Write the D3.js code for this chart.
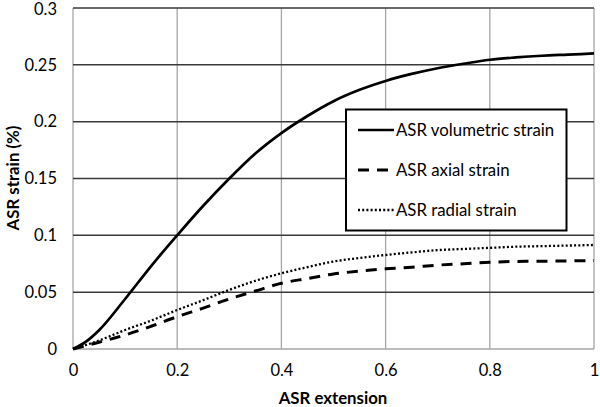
<!DOCTYPE html>
<html>
<head>
<meta charset="utf-8">
<script src="https://cdn.jsdelivr.net/npm/d3@7"></script>
<style>
  html, body { margin: 0; padding: 0; background: #fff; }
  svg { display: block; }
  text { font-family: Lato, "Open Sans", sans-serif; fill: #000; }
</style>
</head>
<body>
<svg id="chart" width="600" height="407"></svg>
<script>
const xValues = [0, 0.025, 0.05, 0.1, 0.15, 0.2, 0.25, 0.3, 0.35, 0.4, 0.45, 0.5, 0.55, 0.6, 0.65, 0.7, 0.75, 0.8, 0.85, 0.9, 0.95, 1];
const volumetric = [0, 0.0065, 0.0165, 0.044, 0.073, 0.1, 0.126, 0.15, 0.172, 0.19, 0.205, 0.218, 0.228, 0.2358, 0.242, 0.247, 0.251, 0.2545, 0.2565, 0.258, 0.259, 0.260];
const axial = [0, 0.003, 0.006, 0.0123, 0.02, 0.0284, 0.036, 0.044, 0.051, 0.0578, 0.062, 0.066, 0.0685, 0.0705, 0.072, 0.0738, 0.075, 0.0763, 0.077, 0.0772, 0.0775, 0.0778];
const radial = [0, 0.0035, 0.0075, 0.0167, 0.025, 0.0343, 0.043, 0.052, 0.06, 0.0666, 0.072, 0.077, 0.080, 0.0827, 0.085, 0.087, 0.088, 0.089, 0.09, 0.0905, 0.091, 0.0915];
const seriesNames = ["ASR volumetric strain", "ASR axial strain", "ASR radial strain"];
const xTicks = [0, 0.2, 0.4, 0.6, 0.8, 1];
const xTickLabels = ["0", "0.2", "0.4", "0.6", "0.8", "1"];
const yTicks = [0, 0.05, 0.1, 0.15, 0.2, 0.25, 0.3];
const yTickLabels = ["0", "0.05", "0.1", "0.15", "0.2", "0.25", "0.3"];
const xTitle = "ASR extension";
const yTitle = "ASR strain (%)";

const svg = d3.select("#chart");
const x = d3.scaleLinear().domain([0, 1]).range([73, 594]);
const y = d3.scaleLinear().domain([0, 0.3]).range([349, 8]);

// vertical gridlines (gray)
svg.append("g").selectAll("line").data(xTicks).join("line")
  .attr("x1", d => x(d)).attr("x2", d => x(d))
  .attr("y1", y(0)).attr("y2", y(0.3))
  .attr("stroke", "#a6a6a6").attr("stroke-width", 1.3);

// horizontal gridlines (dark)
svg.append("g").selectAll("line").data(yTicks.filter(d => d > 0)).join("line")
  .attr("x1", x(0)).attr("x2", x(1))
  .attr("y1", d => y(d)).attr("y2", d => y(d))
  .attr("stroke", "#3a3a3a").attr("stroke-width", 1.5);

// x axis line (gray)
svg.append("line").attr("x1", x(0)).attr("x2", x(1)).attr("y1", y(0)).attr("y2", y(0))
  .attr("stroke", "#a6a6a6").attr("stroke-width", 1.5);

// Tick labels via axes
const xAxis = d3.axisBottom(x).tickValues(xTicks).tickFormat((d, i) => xTickLabels[i]).tickSize(0).tickPadding(15);
const gx = svg.append("g").attr("transform", `translate(0,${y(0)})`).call(xAxis);
gx.select(".domain").remove();
gx.selectAll("text").attr("font-size", 16.5).attr("font-family", "Lato, sans-serif").attr("fill", "#000");

const yAxis = d3.axisLeft(y).tickValues(yTicks).tickFormat((d, i) => yTickLabels[i]).tickSize(0).tickPadding(16);
const gy = svg.append("g").attr("transform", `translate(${x(0)},0)`).call(yAxis);
gy.select(".domain").remove();
gy.selectAll("text").attr("font-size", 16.5).attr("font-family", "Lato, sans-serif").attr("fill", "#000")
  .attr("dy", d => d === 0.3 ? "0.42em" : "0.32em");

// Series lines
const line = d3.line().x((d, i) => x(xValues[i])).y(d => y(d)).curve(d3.curveMonotoneX);
const styles = [
  { data: volumetric, dash: null, width: 2.7 },
  { data: axial, dash: "11,8", width: 3 },
  { data: radial, dash: "2,2.2", width: 2.3 }
];
styles.forEach(s => {
  svg.append("path").datum(s.data).attr("d", line)
    .attr("fill", "none").attr("stroke", "#000")
    .attr("stroke-width", s.width)
    .attr("stroke-dasharray", s.dash);
});

// Legend
const lg = svg.append("g");
lg.append("rect").attr("x", 346).attr("y", 109.5).attr("width", 220.5).attr("height", 121)
  .attr("fill", "#fff").attr("stroke", "#000").attr("stroke-width", 2);
const legendY = [130, 170, 210];
styles.forEach((s, i) => {
  lg.append("line").attr("x1", 358).attr("x2", 394).attr("y1", legendY[i]).attr("y2", legendY[i])
    .attr("stroke", "#000").attr("stroke-width", s.width).attr("stroke-dasharray", s.dash);
  lg.append("text").attr("x", 396).attr("y", legendY[i]).attr("dy", "0.35em")
    .attr("font-size", 16.8).text(seriesNames[i]);
});

// Titles
svg.append("text").attr("x", 333).attr("y", 398).attr("dy", "0.35em").attr("text-anchor", "middle")
  .attr("font-size", 16.8).attr("font-weight", "bold").text(xTitle);
svg.append("text").attr("transform", "translate(13,178) rotate(-90)").attr("dy", "0.35em")
  .attr("text-anchor", "middle").attr("font-size", 16.8).attr("font-weight", "bold").text(yTitle);
</script>
</body>
</html>
